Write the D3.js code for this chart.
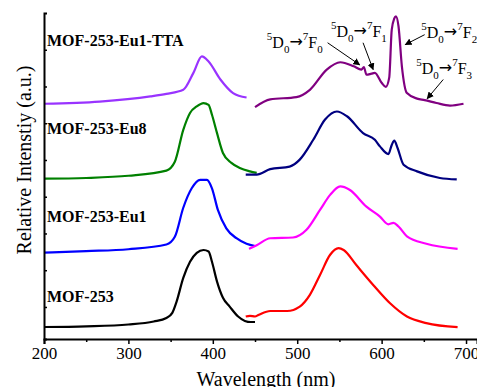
<!DOCTYPE html>
<html>
<head>
<meta charset="utf-8">
<script src="https://cdn.jsdelivr.net/npm/d3@7"></script>
<style>
  body { margin: 0; background: #fff; }
  svg text { font-family: "Liberation Serif", "Times New Roman", serif; fill: #000; }
</style>
</head>
<body>
<div id="chart"></div>
<script>
// chart size
const svgWidth = 477;
const svgHeight = 387;

// excitation / emission spectra, offset-stacked (wavelength nm, relative intensity)
const mof253ExWl = [200, 250, 300, 330, 345, 352, 357, 365, 373, 381, 389, 395, 399, 405, 412, 420, 430, 438, 445, 450];
const mof253ExInt = [0.455, 0.474, 0.523, 0.605, 0.70, 0.84, 1.14, 1.79, 2.23, 2.47, 2.55, 2.51, 2.23, 1.69, 1.25, 1.01, 0.74, 0.62, 0.59, 0.59];
const mof253EmWl = [439, 444, 450, 454, 468, 488, 503, 515, 527, 539, 549, 555, 570, 590, 610, 630, 653, 690];
const mof253EmInt = [0.74, 0.76, 0.74, 0.78, 0.89, 0.89, 1.01, 1.33, 1.87, 2.42, 2.60, 2.55, 2.14, 1.60, 1.10, 0.74, 0.56, 0.45];

const eu1ExWl = [200, 250, 300, 345, 355, 365, 375, 385, 393, 399, 406, 416, 428, 440, 450];
const eu1ExInt = [2.48, 2.52, 2.57, 2.70, 2.91, 3.70, 4.23, 4.46, 4.46, 4.23, 3.64, 3.14, 2.87, 2.72, 2.66];
const eu1EmWl = [443, 452, 468, 495, 511, 527, 539, 551, 562, 582, 598, 608, 614, 620, 630, 653, 690];
const eu1EmInt = [2.58, 2.68, 2.87, 2.89, 3.10, 3.64, 4.05, 4.28, 4.19, 3.73, 3.46, 3.25, 3.29, 3.19, 2.92, 2.72, 2.58];

const eu8ExWl = [200, 250, 300, 345, 355, 365, 373, 381, 389, 395, 399, 405, 412, 422, 432, 444, 452];
const eu8ExInt = [4.49, 4.51, 4.57, 4.71, 4.95, 5.82, 6.28, 6.46, 6.55, 6.50, 6.23, 5.73, 5.19, 4.92, 4.78, 4.69, 4.65];
const eu8EmWl = [439, 452, 468, 491, 503, 519, 533, 547, 559, 578, 592, 598, 608, 612, 615, 619, 626, 642, 669, 689];
const eu8EmInt = [4.60, 4.60, 4.75, 4.82, 5.01, 5.55, 6.10, 6.32, 6.19, 5.73, 5.55, 5.37, 5.16, 5.41, 5.53, 5.32, 4.87, 4.69, 4.51, 4.47];

const ttaExWl = [200, 266, 326, 345, 365, 377, 387, 395, 409, 424, 440];
const ttaExInt = [6.53, 6.59, 6.73, 6.80, 6.91, 7.37, 7.82, 7.68, 7.19, 6.82, 6.70];
const ttaEmWl = [450, 468, 499, 515, 535, 551, 567, 576, 579, 582, 588, 592, 600, 605, 609, 612, 615, 617, 620, 624, 630, 642, 651, 665, 681, 697];
const ttaEmInt = [6.44, 6.65, 6.71, 6.91, 7.46, 7.66, 7.55, 7.46, 7.53, 7.32, 7.35, 7.37, 7.10, 6.99, 7.24, 8.55, 8.85, 8.91, 8.64, 7.55, 6.82, 6.67, 6.63, 6.55, 6.48, 6.53];

// sample labels (left side)
const sampleNames = ["MOF-253-Eu1-TTA", "MOF-253-Eu8", "MOF-253-Eu1", "MOF-253"];
const sampleLabelY = [8.1, 5.7, 3.32, 1.14];

// Eu3+ transitions: final 7F level, text anchor and arrow (start -> tip)
const transLevel = ["0", "1", "2", "3"];
const transTextWl = [464, 540, 647, 641];
const transTextInt = [8.06, 8.36, 8.33, 7.35];
const transArrowFrom = [[536, 8.19], [578, 8.19], [651, 8.41], [673, 7.19]];
const transArrowTo = [[574, 7.59], [590, 7.46], [628, 8.14], [654, 6.67]];

const xTicks = [200, 300, 400, 500, 600, 700];
const xMinorTicks = [250, 350, 450, 550, 650];
const yTicks = [1, 2, 3, 4, 5, 6, 7, 8];

var svg = d3.select("#chart")
  .append("svg")
  .attr("width", svgWidth)
  .attr("height", svgHeight);

// scales
var xScale = d3.scaleLinear().domain([200, 713]).range([44, 477]);
var yScale = d3.scaleLinear().domain([0.128, 9.0]).range([339, 13]);

// arrow head
svg.append("defs").append("marker")
  .attr("id", "arrowhead")
  .attr("viewBox", "0 0 10 10")
  .attr("refX", 9)
  .attr("refY", 5)
  .attr("markerWidth", 7)
  .attr("markerHeight", 7)
  .attr("markerUnits", "userSpaceOnUse")
  .attr("orient", "auto")
  .append("path")
  .attr("d", "M0,0 L10,5 L0,10 z")
  .attr("fill", "#000");

// curves
var curves = [
  { wl: mof253ExWl, val: mof253ExInt, color: "#000000" },
  { wl: mof253EmWl, val: mof253EmInt, color: "#ff0000" },
  { wl: eu1ExWl, val: eu1ExInt, color: "#0000ff" },
  { wl: eu1EmWl, val: eu1EmInt, color: "#ff00ff" },
  { wl: eu8ExWl, val: eu8ExInt, color: "#008000" },
  { wl: eu8EmWl, val: eu8EmInt, color: "#000080" },
  { wl: ttaExWl, val: ttaExInt, color: "#9933ff" },
  { wl: ttaEmWl, val: ttaEmInt, color: "#800080" }
];

var line = d3.line()
  .x(d => xScale(d[0]))
  .y(d => yScale(d[1]))
  .curve(d3.curveMonotoneX);

svg.append("g").selectAll("path")
  .data(curves)
  .enter()
  .append("path")
  .attr("d", c => line(c.wl.map((w, i) => [w, c.val[i]])))
  .attr("fill", "none")
  .attr("stroke", c => c.color)
  .attr("stroke-width", 2.2)
  .attr("stroke-linejoin", "round");

// x axis
var xAxis = svg.append("g")
  .attr("transform", `translate(0, ${yScale.range()[0]})`)
  .call(d3.axisBottom(xScale).tickValues(xTicks).tickSize(5).tickPadding(3).tickFormat(d3.format("d")));
xAxis.append("g")
  .call(d3.axisBottom(xScale).tickValues(xMinorTicks).tickSize(3).tickFormat(""))
  .select(".domain").remove();
xAxis.selectAll("text")
  .attr("font-family", "Liberation Serif")
  .attr("font-size", 17)
  .attr("fill", "#000");

// y axis (ticks inward, no labels)
var yAxis = svg.append("g")
  .attr("transform", `translate(${xScale.range()[0]}, 0)`)
  .call(d3.axisRight(yScale).tickValues(yTicks).tickSize(3).tickFormat(""));

svg.selectAll(".domain").attr("stroke-width", 2).attr("stroke", "#000");
svg.selectAll(".tick line").attr("stroke-width", 1.5).attr("stroke", "#000");

// axis titles
svg.append("text")
  .attr("x", 266)
  .attr("y", 386)
  .attr("text-anchor", "middle")
  .attr("font-size", 20)
  .text("Wavelength (nm)");

svg.append("text")
  .attr("transform", "translate(31, 160) rotate(-90)")
  .attr("text-anchor", "middle")
  .attr("font-size", 20)
  .text("Relative Intenstiy (a.u.)");

// sample names
svg.append("g").selectAll("text")
  .data(sampleNames)
  .enter()
  .append("text")
  .attr("x", 47)
  .attr("y", (d, i) => yScale(sampleLabelY[i]))
  .attr("font-size", 16)
  .attr("font-weight", "bold")
  .text(d => d);

// transition labels 5D0 -> 7Fn
transLevel.forEach(function(n, i) {
  var t = svg.append("text")
    .attr("x", xScale(transTextWl[i]))
    .attr("y", yScale(transTextInt[i]))
    .attr("font-size", 16);
  t.append("tspan").attr("font-size", 11).attr("dy", -8).text("5");
  t.append("tspan").attr("dy", 8).text("D");
  t.append("tspan").attr("font-size", 11).attr("dy", 5).text("0");
  t.append("tspan").attr("font-family", "DejaVu Sans").attr("font-size", 16).attr("dy", -6).text("\u2192");
  t.append("tspan").attr("font-size", 11).attr("dy", -7).text("7");
  t.append("tspan").attr("dy", 8).text("F");
  t.append("tspan").attr("font-size", 11).attr("dy", 5).text(n);

  svg.append("line")
    .attr("x1", xScale(transArrowFrom[i][0]))
    .attr("y1", yScale(transArrowFrom[i][1]))
    .attr("x2", xScale(transArrowTo[i][0]))
    .attr("y2", yScale(transArrowTo[i][1]))
    .attr("stroke", "#000")
    .attr("stroke-width", 1)
    .attr("marker-end", "url(#arrowhead)");
});
</script>
</body>
</html>
